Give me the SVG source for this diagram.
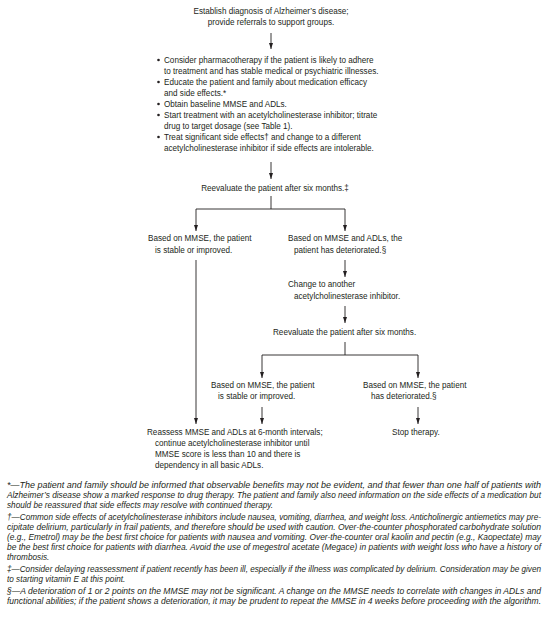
<svg xmlns="http://www.w3.org/2000/svg" width="550" height="621" viewBox="0 0 550 621">
<style>
.t{font-family:"Liberation Sans",Arial,sans-serif;font-size:8.15px;fill:#231f20}
.m{text-anchor:middle}
.f{font-family:"Liberation Sans",Arial,sans-serif;font-size:8.2px;font-style:italic;fill:#231f20}
.c{stroke:#231f20;stroke-width:0.9;fill:none}
</style>
<defs>
<marker id="ah2" markerUnits="userSpaceOnUse" markerWidth="6" markerHeight="7" viewBox="0 0 6 7" refX="3" refY="6" orient="0">
<path d="M1,0 L5,0 L3,6 Z" fill="#231f20"/>
</marker>
</defs>
<g id="connectors">
<path class="c" d="M271,33 V49" marker-end="url(#ah2)"/>
<path class="c" d="M271,162 V179" marker-end="url(#ah2)"/>
<path class="c" d="M271,196 V209 M196,209 H345"/>
<path class="c" d="M196,209 V231" marker-end="url(#ah2)"/>
<path class="c" d="M345,209 V231" marker-end="url(#ah2)"/>
<path class="c" d="M196,260 V424" marker-end="url(#ah2)"/>
<path class="c" d="M345,260 V277" marker-end="url(#ah2)"/>
<path class="c" d="M345,306 V323" marker-end="url(#ah2)"/>
<path class="c" d="M345,342 V355 M262,355 H418"/>
<path class="c" d="M262,355 V378" marker-end="url(#ah2)"/>
<path class="c" d="M418,355 V378" marker-end="url(#ah2)"/>
<path class="c" d="M262,407 V424" marker-end="url(#ah2)"/>
<path class="c" d="M418,407 V424" marker-end="url(#ah2)"/>
</g>
<g id="n-diagnosis">
<text class="t m" x="271" y="14">Establish diagnosis of Alzheimer’s disease;</text>
<text class="t m" x="271" y="25">provide referrals to support groups.</text>
</g>
<g id="n-treatment">
<circle cx="158.5" cy="60" r="1.3" fill="#231f20"/>
<circle cx="158.5" cy="82" r="1.3" fill="#231f20"/>
<circle cx="158.5" cy="104" r="1.3" fill="#231f20"/>
<circle cx="158.5" cy="115" r="1.3" fill="#231f20"/>
<circle cx="158.5" cy="137" r="1.3" fill="#231f20"/>
<text class="t" x="164" y="63">Consider pharmacotherapy if the patient is likely to adhere</text>
<text class="t" x="164" y="74">to treatment and has stable medical or psychiatric illnesses.</text>
<text class="t" x="164" y="85">Educate the patient and family about medication efficacy</text>
<text class="t" x="164" y="96">and side effects.*</text>
<text class="t" x="164" y="107">Obtain baseline MMSE and ADLs.</text>
<text class="t" x="164" y="118">Start treatment with an acetylcholinesterase inhibitor; titrate</text>
<text class="t" x="164" y="129">drug to target dosage (see Table 1).</text>
<text class="t" x="164" y="140">Treat significant side effects† and change to a different</text>
<text class="t" x="164" y="151">acetylcholinesterase inhibitor if side effects are intolerable.</text>
</g>
<g id="n-reeval1">
<text class="t m" x="275" y="191">Reevaluate the patient after six months.‡</text>
</g>
<g id="n-stable1">
<text class="t" x="148" y="241">Based on MMSE, the patient</text>
<text class="t" x="155" y="253">is stable or improved.</text>
</g>
<g id="n-deteriorated1">
<text class="t" x="288" y="241">Based on MMSE and ADLs, the</text>
<text class="t" x="294" y="253">patient has deteriorated.§</text>
</g>
<g id="n-change">
<text class="t" x="288" y="287">Change to another</text>
<text class="t" x="294" y="299">acetylcholinesterase inhibitor.</text>
</g>
<g id="n-reeval2">
<text class="t" x="273" y="335">Reevaluate the patient after six months.</text>
</g>
<g id="n-stable2">
<text class="t" x="211" y="388">Based on MMSE, the patient</text>
<text class="t" x="218" y="399">is stable or improved.</text>
</g>
<g id="n-deteriorated2">
<text class="t" x="363" y="388">Based on MMSE, the patient</text>
<text class="t" x="371" y="399">has deteriorated.§</text>
</g>
<g id="n-reassess">
<text class="t" x="147" y="435">Reassess MMSE and ADLs at 6-month intervals;</text>
<text class="t" x="155" y="446">continue acetylcholinesterase inhibitor until</text>
<text class="t" x="155" y="457">MMSE score is less than 10 and there is</text>
<text class="t" x="155" y="468">dependency in all basic ADLs.</text>
</g>
<g id="n-stop">
<text class="t" x="392" y="435">Stop therapy.</text>
</g>
<g id="footnotes">
<text class="f" x="7" y="488" textLength="534" lengthAdjust="spacingAndGlyphs">*—The patient and family should be informed that observable benefits may not be evident, and that fewer than one half of patients with</text>
<text class="f" x="7" y="498" textLength="534" lengthAdjust="spacingAndGlyphs">Alzheimer’s disease show a marked response to drug therapy. The patient and family also need information on the side effects of a medication but</text>
<text class="f" x="7" y="508">should be reassured that side effects may resolve with continued therapy.</text>
<text class="f" x="7" y="520" textLength="534" lengthAdjust="spacingAndGlyphs">†—Common side effects of acetylcholinesterase inhibitors include nausea, vomiting, diarrhea, and weight loss. Anticholinergic antiemetics may pre-</text>
<text class="f" x="7" y="530" textLength="534" lengthAdjust="spacingAndGlyphs">cipitate delirium, particularly in frail patients, and therefore should be used with caution. Over-the-counter phosphorated carbohydrate solution</text>
<text class="f" x="7" y="540" textLength="534" lengthAdjust="spacingAndGlyphs">(e.g., Emetrol) may be the best first choice for patients with nausea and vomiting. Over-the-counter oral kaolin and pectin (e.g., Kaopectate) may</text>
<text class="f" x="7" y="550" textLength="534" lengthAdjust="spacingAndGlyphs">be the best first choice for patients with diarrhea. Avoid the use of megestrol acetate (Megace) in patients with weight loss who have a history of</text>
<text class="f" x="7" y="560">thrombosis.</text>
<text class="f" x="7" y="572" textLength="534" lengthAdjust="spacingAndGlyphs">‡—Consider delaying reassessment if patient recently has been ill, especially if the illness was complicated by delirium. Consideration may be given</text>
<text class="f" x="7" y="582">to starting vitamin E at this point.</text>
<text class="f" x="7" y="594" textLength="534" lengthAdjust="spacingAndGlyphs">§—A deterioration of 1 or 2 points on the MMSE may not be significant. A change on the MMSE needs to correlate with changes in ADLs and</text>
<text class="f" x="7" y="604" textLength="534" lengthAdjust="spacingAndGlyphs">functional abilities; if the patient shows a deterioration, it may be prudent to repeat the MMSE in 4 weeks before proceeding with the algorithm.</text>
</g>
</svg>
